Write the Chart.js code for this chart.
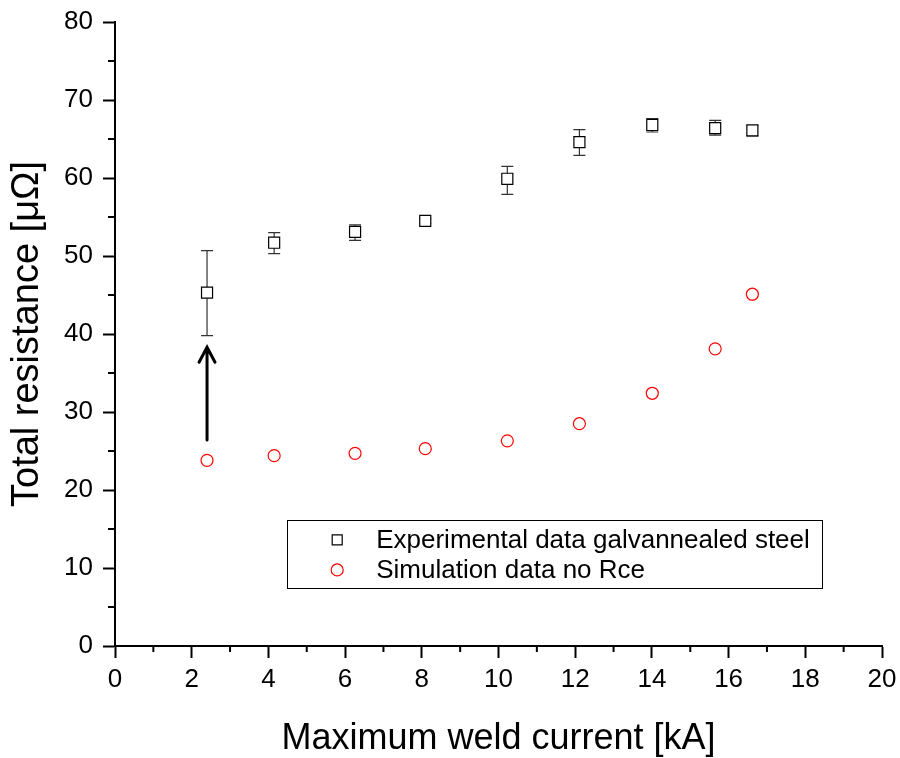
<!DOCTYPE html>
<html>
<head>
<meta charset="utf-8">
<script src="https://cdn.jsdelivr.net/npm/chart.js@4.4.0/dist/chart.umd.min.js"></script>
<style>
  html, body { margin: 0; padding: 0; background: #fff; }
</style>
</head>
<body>
<canvas id="myChart" width="900" height="758"></canvas>
<script>
// data
var currents = [2.4, 4.15, 6.26, 8.09, 10.23, 12.11, 14.01, 15.65, 16.62];
var expResistance = [45.3, 51.7, 53.1, 54.5, 59.9, 64.6, 66.8, 66.4, 66.1];
var expErrUpper = [50.7, 53.0, 54.0, 54.8, 61.5, 66.2, 67.6, 67.4, 66.7];
var expErrLower = [39.8, 50.3, 52.0, 54.2, 57.9, 62.9, 65.9, 65.5, 65.4];
var simResistance = [23.8, 24.4, 24.7, 25.3, 26.3, 28.5, 32.4, 38.1, 45.1];
var seriesLabels = ['Experimental data galvannealed steel', 'Simulation data no Rce'];
var arrowStart = { x: 2.4, y: 26.4 };
var arrowEnd = { x: 2.4, y: 38.3 };

var fontFamily = '"Liberation Sans", Arial, sans-serif';

function toPoints(xs, ys) {
    return xs.map(function (x, i) { return { x: x, y: ys[i] }; });
}

// error bars, drawn before the markers
var errorBarPlugin = {
    id: 'errorBars',
    beforeDatasetsDraw: function (chart) {
        var ctx = chart.ctx;
        var xs = chart.scales.x, ys = chart.scales.y;
        ctx.save();
        ctx.strokeStyle = '#333';
        ctx.lineWidth = 1.2;
        for (var i = 0; i < currents.length; i++) {
            var px = xs.getPixelForValue(currents[i]);
            var top = ys.getPixelForValue(expErrUpper[i]);
            var bot = ys.getPixelForValue(expErrLower[i]);
            ctx.beginPath();
            ctx.moveTo(px, top); ctx.lineTo(px, bot);
            ctx.moveTo(px - 6, top); ctx.lineTo(px + 6, top);
            ctx.moveTo(px - 6, bot); ctx.lineTo(px + 6, bot);
            ctx.stroke();
        }
        ctx.restore();
    }
};

// minor ticks between labelled ones + the arrow + legend box
var extrasPlugin = {
    id: 'extras',
    afterDraw: function (chart) {
        var ctx = chart.ctx;
        var xs = chart.scales.x, ys = chart.scales.y;
        var area = chart.chartArea;
        ctx.save();
        ctx.strokeStyle = '#000';
        ctx.lineWidth = 2;
        ctx.beginPath();
        for (var v = 1; v < 20; v += 2) {
            var px = xs.getPixelForValue(v);
            ctx.moveTo(px, area.bottom); ctx.lineTo(px, area.bottom + 6);
        }
        for (var w = 5; w < 80; w += 10) {
            var py = ys.getPixelForValue(w);
            ctx.moveTo(area.left, py); ctx.lineTo(area.left - 7, py);
        }
        ctx.stroke();

        // arrow
        var ax = xs.getPixelForValue(arrowStart.x);
        var ay0 = ys.getPixelForValue(arrowStart.y);
        var ay1 = ys.getPixelForValue(arrowEnd.y);
        ctx.lineWidth = 3;
        ctx.lineCap = 'round';
        ctx.lineJoin = 'miter';
        ctx.beginPath();
        ctx.moveTo(ax, ay0); ctx.lineTo(ax, ay1 + 1);
        ctx.moveTo(ax - 8, ay1 + 15); ctx.lineTo(ax, ay1); ctx.lineTo(ax + 8, ay1 + 15);
        ctx.stroke();

        // legend
        var w0 = area.right - area.left, h0 = area.bottom - area.top;
        var lx = area.left + 0.2245 * w0, rx = area.left + 0.9225 * w0;
        var ty = area.top + 0.798 * h0, by = area.top + 0.907 * h0;
        ctx.lineWidth = 1;
        ctx.strokeStyle = '#000';
        ctx.strokeRect(Math.round(lx) + 0.5, Math.round(ty) + 0.5, Math.round(rx - lx), Math.round(by - ty));
        ctx.font = '26px ' + fontFamily;
        ctx.fillStyle = '#000';
        ctx.textBaseline = 'middle';
        var rows = [ty + 20, ty + 50];
        chart.data.datasets.forEach(function (ds, i) {
            var mx = lx + 50, my = rows[i];
            ctx.lineWidth = 1.2;
            ctx.strokeStyle = ds.borderColor;
            ctx.fillStyle = '#fff';
            ctx.beginPath();
            if (ds.pointStyle === 'rect') {
                ctx.rect(mx - 5, my - 5, 10, 10);
            } else {
                ctx.arc(mx, my, 6, 0, Math.PI * 2);
            }
            ctx.fill();
            ctx.stroke();
            ctx.fillStyle = '#000';
            ctx.fillText(ds.label, lx + 89, my + 1);
        });
        ctx.restore();
    }
};

var ctx = document.getElementById('myChart').getContext('2d');
var myChart = new Chart(ctx, {
    type: 'scatter',
    data: {
        datasets: [{
            label: seriesLabels[0],
            data: toPoints(currents, expResistance),
            pointStyle: 'rect',
            pointRadius: 7.8,
            borderColor: '#000',
            backgroundColor: '#fff',
            borderWidth: 1.2,
            showLine: false
        }, {
            label: seriesLabels[1],
            data: toPoints(currents, simResistance),
            pointStyle: 'circle',
            pointRadius: 6,
            borderColor: '#ff0000',
            backgroundColor: 'rgba(255,255,255,0)',
            borderWidth: 1.2,
            showLine: false
        }]
    },
    options: {
        responsive: false,
        animation: false,
        devicePixelRatio: 1,
        layout: { padding: { top: 22, right: 18, left: 0, bottom: 0 } },
        plugins: {
            legend: { display: false },
            tooltip: { enabled: false }
        },
        scales: {
            x: {
                type: 'linear',
                min: 0,
                max: 20,
                afterFit: function (scale) {
                    scale.height = 112;
                    scale.paddingLeft = 0;
                    scale.paddingRight = 0;
                },
                ticks: { stepSize: 2, color: '#000', padding: 6, font: { family: fontFamily, size: 26 } },
                grid: { drawOnChartArea: false, drawTicks: true, tickLength: 12, tickWidth: 2, tickColor: '#000' },
                border: { display: true, color: '#000', width: 2 },
                title: {
                    display: true,
                    text: 'Maximum weld current [kA]',
                    color: '#000',
                    font: { family: fontFamily, size: 36, lineHeight: 1 },
                    padding: { top: 0, bottom: 1 }
                }
            },
            y: {
                type: 'linear',
                min: 0,
                max: 80,
                afterFit: function (scale) {
                    scale.width = 115;
                    scale.paddingTop = 0;
                    scale.paddingBottom = 0;
                },
                ticks: { stepSize: 10, color: '#000', padding: 10, font: { family: fontFamily, size: 26 } },
                grid: { drawOnChartArea: false, drawTicks: true, tickLength: 12, tickWidth: 2, tickColor: '#000' },
                border: { display: true, color: '#000', width: 2 },
                title: {
                    display: true,
                    text: 'Total resistance [μΩ]',
                    color: '#000',
                    font: { family: fontFamily, size: 38, lineHeight: 1 },
                    padding: { top: 9, bottom: 0 }
                }
            }
        }
    },
    plugins: [errorBarPlugin, extrasPlugin]
});
</script>
</body>
</html>
